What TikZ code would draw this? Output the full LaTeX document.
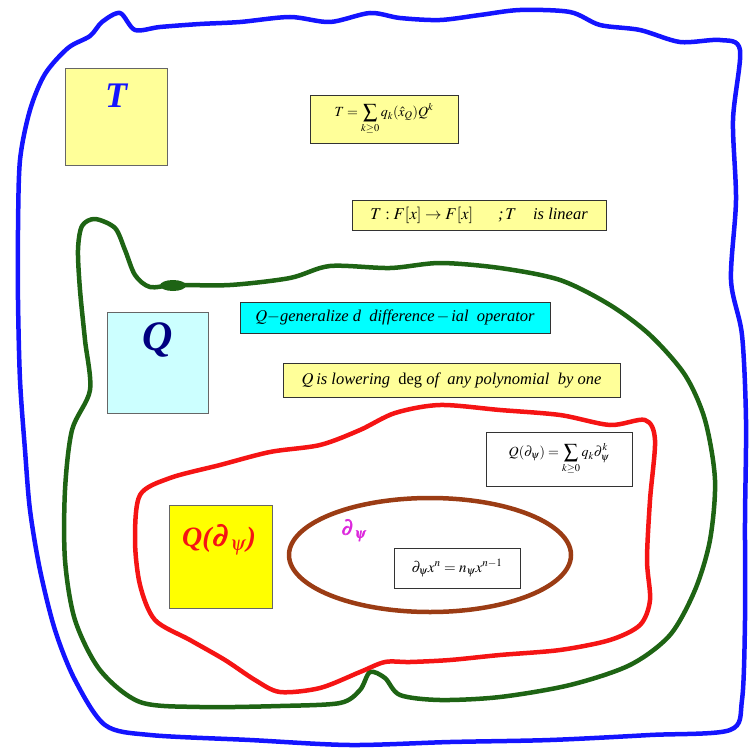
\documentclass[tikz,border=0pt]{standalone}
\usepackage{mathptmx}
\usepackage{bm}
\usepackage{fontspec}
\setmainfont{Liberation Serif}
\newfontfamily\boxfont{Liberation Serif}
\definecolor{lyellow}{RGB}{255,255,153}
\definecolor{lcyan}{RGB}{204,255,255}
\definecolor{acyan}{RGB}{0,255,255}
\definecolor{ayellow}{RGB}{255,255,0}
\definecolor{bblue}{RGB}{20,20,255}
\definecolor{dgreen}{RGB}{30,100,20}
\definecolor{rred}{RGB}{245,20,20}
\definecolor{brownc}{RGB}{155,60,20}
\definecolor{navyc}{RGB}{0,0,128}
\definecolor{magc}{RGB}{220,40,220}
\begin{document}
\begin{tikzpicture}[x=1pt,y=-1pt,
  thickloop/.style={line width=4.5pt,line join=round},
  bigbox/.style={draw=gray!80!black,line width=0.8pt,minimum width=102pt,minimum height=97pt,inner sep=0pt},
  fbox/.style={draw=black!80,line width=0.8pt,inner sep=0pt},
  ftext/.style={font=\boxfont\fontsize{16.5}{18}\selectfont\itshape}]
\useasboundingbox (0,0) rectangle (752,749);
% blue loop
\draw[thickloop,bblue] plot[smooth cycle,tension=0.5] coordinates {
 (45,74) (68,48) (90,36) (102,22) (120,13) (135,30) (160,27) (200,24) (240,22) (290,17) (330,22) (370,13) (400,18) (440,20) (480,15) (520,10) (570,12) (600,25) (640,30) (680,42) (720,40) (740,50) (733,120) (736,200) (731,280) (742,335) (746,420) (745,520) (745,620) (742,700) (730,730) (650,735) (550,740) (450,742) (350,745) (250,740) (150,735) (105,725) (75,680) (55,630) (40,570) (30,510) (25,450) (20,380) (18,300) (18,230) (20,160) (30,110)};
% green loop
\draw[thickloop,dgreen] plot[smooth cycle,tension=0.5] coordinates {
 (82,226) (95,219) (115,228) (125,250) (135,275) (150,287) (175,285) (230,285) (290,278) (330,266) (390,268) (440,263) (500,268) (560,280) (610,305) (650,335) (685,375) (705,420) (715,480) (710,540) (695,590) (670,635) (630,665) (570,685) (500,697) (440,700) (400,695) (385,678) (370,672) (360,690) (340,703) (280,706) (200,707) (140,702) (100,670) (75,620) (65,560) (65,490) (72,430) (90,390) (85,340) (80,290) (78,250)};
\fill[dgreen] (173,285.5) ellipse [x radius=13pt, y radius=5.5pt];
% red loop
\draw[thickloop,rred] plot[smooth cycle,tension=0.5] coordinates {
 (140,495) (170,478) (220,465) (270,452) (320,445) (360,430) (395,413) (440,405) (500,410) (560,415) (610,425) (645,420) (655,440) (650,500) (647,560) (650,600) (640,625) (610,640) (560,650) (500,655) (450,660) (410,662) (385,662) (360,672) (320,688) (280,692) (255,680) (225,660) (190,640) (155,620) (140,585) (135,540)};
% brown ellipse
\draw[thickloop,brownc] (430,555) ellipse [x radius=141pt, y radius=57pt];
% boxes
\node[bigbox,fill=lyellow] (tbox) at (116,116.5) {};
\node[font=\boxfont\fontsize{36}{36}\selectfont\bfseries\itshape,text=bblue] (tlab) at (116,96) {T};
\node[bigbox,fill=lcyan,minimum width=101pt,minimum height=101pt] (qbox) at (157.5,362.5) {};
\node[font=\boxfont\fontsize{42}{42}\selectfont\bfseries\itshape,text=navyc] (qlab) at (158,340) {Q};
\node[bigbox,fill=ayellow,minimum width=103pt,minimum height=103pt] (qdbox) at (220.5,556.5) {};
\node[font=\boxfont\fontsize{28}{28}\selectfont\bfseries\itshape,text=rred] (qdlab) at (219,540) {Q($\bm{\partial_{\psi}}$)};
\node[fbox,fill=lyellow,minimum width=148pt,minimum height=48pt,font=\fontsize{14}{16}\selectfont] (f1) at (384,119) {$\displaystyle T=\sum_{k\ge0} q_k(\hat{x}_Q)Q^k$};
\node[fbox,fill=lyellow,minimum width=254pt,minimum height=30pt,ftext] (f2) at (479,215) {$T: F[x]\to F[x]$\quad\enspace ;$\,T$\quad is linear};
\node[fbox,fill=acyan,minimum width=310pt,minimum height=31pt,ftext] (f3) at (395,317.5) {$Q-$generalize d\enspace difference$\,-\,$ial\enspace operator};
\node[fbox,fill=lyellow,minimum width=337pt,minimum height=34pt,ftext] (f4) at (451.5,380) {$Q$\,is lowering\enspace\upshape deg \itshape of\enspace any polynomial\enspace by one};
\node[fbox,fill=white,minimum width=146pt,minimum height=54pt,font=\fontsize{14}{16}\selectfont] (f5) at (559,459) {$\displaystyle Q(\partial_\psi)=\sum_{k\ge0} q_k\partial_\psi^k$};
\node[font=\fontsize{20}{20}\selectfont,text=magc] (dlab) at (354,531) {$\bm{\partial_\psi}$};
\node[fbox,fill=white,minimum width=126pt,minimum height=40pt,font=\fontsize{15}{17}\selectfont] (f6) at (457,568) {$\partial_\psi x^n=n_\psi x^{n-1}$};
\end{tikzpicture}
\end{document}
